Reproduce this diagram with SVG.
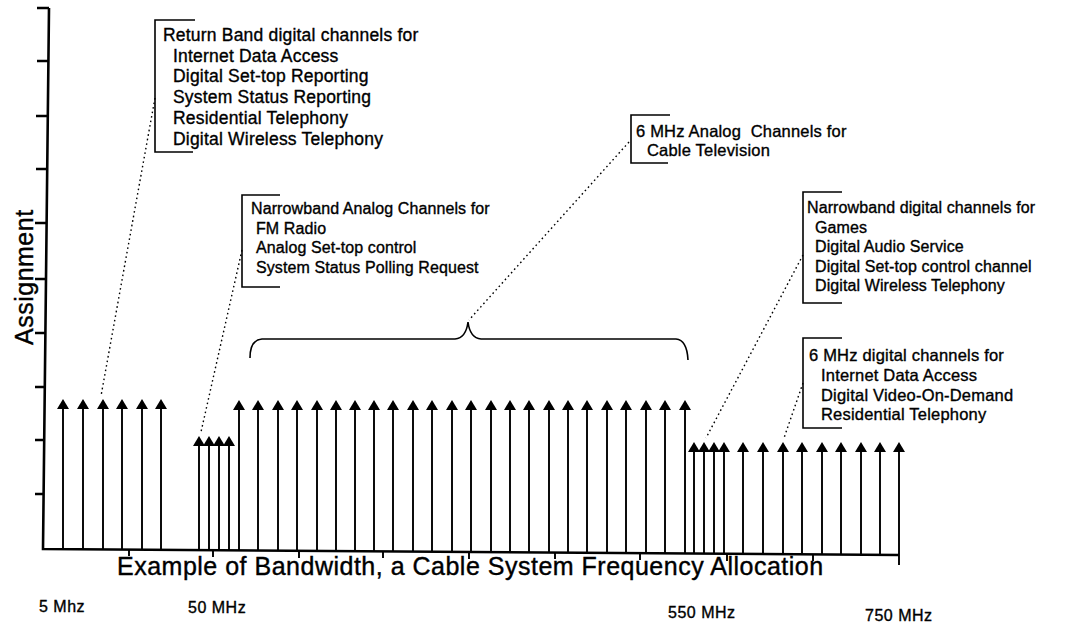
<svg xmlns="http://www.w3.org/2000/svg" width="1073" height="624" viewBox="0 0 1073 624">
<defs>
<style>
.t{font-family:"Liberation Sans",Arial,sans-serif;fill:#000;stroke:#000;stroke-width:0.35}
.a1{font-size:17.5px;letter-spacing:0.2px}
.a2{font-size:16.5px;letter-spacing:0.2px}
.a3{font-size:16px;letter-spacing:0.1px}
.big{font-size:25px;letter-spacing:0.5px;stroke-width:0.4}
.mhz{font-size:16px;letter-spacing:0.5px}
.br{fill:none;stroke:#000;stroke-width:1.6}
.dot{fill:none;stroke:#000;stroke-width:1.4;stroke-dasharray:1.6 3}
.ax{fill:none;stroke:#000;stroke-width:2.6}
.st{fill:none;stroke:#000;stroke-width:1.9}
</style>
<path id="h" d="M-6,10 L0,0 L6,10 Z" fill="#000"/>
</defs>
<rect width="1073" height="624" fill="#fff"/>

<g id="axes">
<path class="ax" d="M49,8 L43,549 L899,555"/>
<path class="ax" d="M37,8 H49 M37,61 H48 M36,116 H48 M36,169 H48 M35,223 H47 M35,279 H47 M35,333 H46 M35,387 H45 M35,440 H45 M35,494 H44"/>
<path class="st" d="M129,549 V556 M213,550 V557 M299,551 V558 M383,551 V558 M469,552 V559 M555,552 V559 M640,553 V560 M727,554 V561 M813,554 V561"/>
<text class="t big" transform="translate(33,345) rotate(-90)">Assignment</text>
<text class="t big" x="117" y="575">Example of Bandwidth, a Cable System Frequency Allocation</text>
<text class="t mhz" x="39" y="612">5 Mhz</text>
<text class="t mhz" x="188" y="613">50 MHz</text>
<text class="t mhz" x="668" y="618">550 MHz</text>
<text class="t mhz" x="865" y="621">750 MHz</text>
</g>

<g id="channels">
<path class="st" d="M63,406 V549 M83,406 V549 M103,406 V549 M122,406 V549 M142,406 V550 M161,406 V550
M199,443 V550 M209,443 V550 M219,443 V550 M229,443 V550
M239,407 V550 M258,407 V550 M278,407 V551 M297,407 V551 M317,407 V551 M336,407 V551 M355,407 V551 M374,407 V551 M393,407 V551 M413,407 V552 M432,407 V552 M452,407 V552 M471,407 V552 M491,407 V552 M510,407 V552 M529,407 V552 M549,407 V553 M568,407 V553 M587,407 V553 M607,407 V553 M626,407 V553 M646,407 V553 M665,407 V553 M685,407 V554
M694,449 V554 M704,449 V554 M714,449 V554 M724,449 V554 M743,449 V554 M763,449 V554 M783,449 V554 M802,449 V554 M822,449 V555 M841,449 V555 M861,449 V555 M880,449 V555 M899,449 V565"/>
<use href="#h" x="63" y="399"/><use href="#h" x="83" y="399"/><use href="#h" x="103" y="399"/><use href="#h" x="122" y="399"/><use href="#h" x="142" y="399"/><use href="#h" x="161" y="399"/>
<use href="#h" x="199" y="436"/><use href="#h" x="209" y="436"/><use href="#h" x="219" y="436"/><use href="#h" x="229" y="436"/>
<use href="#h" x="239" y="400"/><use href="#h" x="258" y="400"/><use href="#h" x="278" y="400"/><use href="#h" x="297" y="400"/><use href="#h" x="317" y="400"/><use href="#h" x="336" y="400"/><use href="#h" x="355" y="400"/><use href="#h" x="374" y="400"/><use href="#h" x="393" y="400"/><use href="#h" x="413" y="400"/><use href="#h" x="432" y="400"/><use href="#h" x="452" y="400"/><use href="#h" x="471" y="400"/><use href="#h" x="491" y="400"/><use href="#h" x="510" y="400"/><use href="#h" x="529" y="400"/><use href="#h" x="549" y="400"/><use href="#h" x="568" y="400"/><use href="#h" x="587" y="400"/><use href="#h" x="607" y="400"/><use href="#h" x="626" y="400"/><use href="#h" x="646" y="400"/><use href="#h" x="665" y="400"/><use href="#h" x="685" y="400"/>
<use href="#h" x="694" y="442"/><use href="#h" x="704" y="442"/><use href="#h" x="714" y="442"/><use href="#h" x="724" y="442"/><use href="#h" x="743" y="442"/><use href="#h" x="763" y="442"/><use href="#h" x="783" y="442"/><use href="#h" x="802" y="442"/><use href="#h" x="822" y="442"/><use href="#h" x="841" y="442"/><use href="#h" x="861" y="442"/><use href="#h" x="880" y="442"/><use href="#h" x="899" y="442"/>
</g>

<g id="brace">
<path class="br" d="M250,358 Q250,340 262,339 L455,339 Q466,338 468,322 Q470,338 481,339 L676,339 Q687,340 688,360"/>
</g>

<g id="note-return">
<path class="br" d="M195,20 H155 V152 H193"/>
<text class="t a1" x="163" y="41">Return Band digital channels for</text>
<text class="t a1" x="173" y="61.7">Internet Data Access</text>
<text class="t a1" x="173" y="82.4">Digital Set-top Reporting</text>
<text class="t a1" x="173" y="103">System Status Reporting</text>
<text class="t a1" x="173" y="123.8">Residential Telephony</text>
<text class="t a1" x="173" y="144.5">Digital Wireless Telephony</text>
</g>

<g id="note-narrow-analog">
<path class="br" d="M280,195 H242 V287 H280"/>
<text class="t a3" x="251" y="214">Narrowband Analog Channels for</text>
<text class="t a3" x="256" y="233.5">FM Radio</text>
<text class="t a3" x="256" y="253">Analog Set-top control</text>
<text class="t a3" x="256" y="272.5">System Status Polling Request</text>
</g>

<g id="note-analog-tv">
<path class="br" d="M670,115 H631 V163 H668"/>
<text class="t a2" x="636" y="137" xml:space="preserve">6 MHz Analog  Channels for</text>
<text class="t a2" x="647" y="156">Cable Television</text>
</g>

<g id="note-narrow-digital">
<path class="br" d="M842,192 H803 V303 H842"/>
<text class="t a3" x="807" y="213">Narrowband digital channels for</text>
<text class="t a3" x="815" y="232.5">Games</text>
<text class="t a3" x="815" y="252">Digital Audio Service</text>
<text class="t a3" x="815" y="271.5">Digital Set-top control channel</text>
<text class="t a3" x="815" y="291">Digital Wireless Telephony</text>
</g>

<g id="note-digital">
<path class="br" d="M842,338 H803 V428 H842"/>
<text class="t a2" x="809" y="361">6 MHz digital channels for</text>
<text class="t a2" x="821" y="381">Internet Data Access</text>
<text class="t a2" x="821" y="401">Digital Video-On-Demand</text>
<text class="t a2" x="821" y="420">Residential Telephony</text>
</g>

<g id="connectors">
<path class="dot" d="M155,98 L101,396"/>
<path class="dot" d="M242,250 L201,432"/>
<path class="dot" d="M629,142 L469,320"/>
<path class="dot" d="M803,255 L706,438"/>
<path class="dot" d="M803,383 L784,438"/>
</g>
</svg>
